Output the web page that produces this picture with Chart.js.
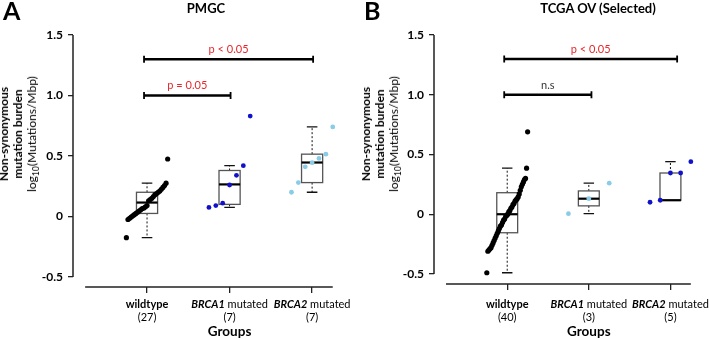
<!DOCTYPE html>
<html>
<head>
<meta charset="utf-8">
<script src="https://cdn.jsdelivr.net/npm/chart.js@4"></script>
<style>
  body { margin: 0; background: #fff; }
  #wrap { position: relative; width: 709px; height: 339px; font-family: Lato, sans-serif; }
  canvas { position: absolute; top: 0; }
  .letter { position: absolute; top: -5px; font-weight: bold; font-size: 25px; }
  .title { position: absolute; top: 0px; font-weight: bold; font-size: 13px; transform: translateX(-50%); white-space: nowrap; }
  .ytitle { position: absolute; top: 134px; transform: translate(-50%, -50%) rotate(-90deg);
            text-align: center; line-height: 14px; font-size: 12px; white-space: nowrap; }
  .ytitle b { font-weight: bold; }
  .ytitle sub { font-size: 8.5px; line-height: 0; }
</style>
</head>
<body>
<div id="wrap">
  <canvas id="chartA" width="354" height="339" style="left:0"></canvas>
  <canvas id="chartB" width="355" height="339" style="left:354px"></canvas>
  <div class="letter" style="left:3px">A</div>
  <div class="letter" style="left:364px">B</div>
  <div class="title" style="left:206px">PMGC</div>
  <div class="title" style="left:598px">TCGA OV (Selected)</div>
  <div class="ytitle" style="left:18px"><b>Non-synonymous</b><br><b>mutation burden</b><br>log<sub>10</sub>(Mutations/Mbp)</div>
  <div class="ytitle" style="left:380px"><b>Non-synonymous</b><br><b>mutation burden</b><br>log<sub>10</sub>(Mutations/Mbp)</div>
</div>
<script>
// groups on the x axis
const groupGene = ['', 'BRCA1', 'BRCA2'];
const groupSuffix = ['wildtype', ' mutated', ' mutated'];
const yTicks = [-0.5, 0, 0.5, 1.0, 1.5];

// PMGC (panel A)
const pmgcCounts = [27, 7, 7];
const pmgcWildtype = [-0.175, -0.025, -0.015, -0.005, 0.005, 0.015, 0.025, 0.035, 0.045, 0.055,
    0.065, 0.07, 0.08, 0.09, 0.13, 0.14, 0.15, 0.165, 0.18, 0.19, 0.20, 0.21, 0.225, 0.24,
    0.255, 0.275, 0.475];
const pmgcBrca1 = [0.075, 0.09, 0.11, 0.26, 0.34, 0.42, 0.83];
const pmgcBrca2 = [0.20, 0.28, 0.41, 0.445, 0.48, 0.515, 0.74];
// [lower whisker, q1, median, q3, upper whisker]
const pmgcBoxes = [
    [-0.175, 0.025, 0.115, 0.20, 0.275],
    [0.075, 0.10, 0.265, 0.38, 0.42],
    [0.20, 0.28, 0.446, 0.515, 0.74]
];
const pmgcBracketTo = [2, 1];
const pmgcBracketY = [1.3, 1.0];
const pmgcBracketText = ['p < 0.05', 'p = 0.05'];

// TCGA OV selected (panel B)
const tcgaCounts = [40, 3, 5];
const tcgaWildtype = [-0.49, -0.31, -0.30, -0.29, -0.28, -0.26, -0.24, -0.22, -0.20,
    -0.18, -0.16, -0.14, -0.12, -0.10, -0.09, -0.07, -0.05, -0.04, -0.02, -0.01,
    0.00, 0.02, 0.03, 0.05, 0.06, 0.08, 0.09, 0.11, 0.12, 0.13, 0.145,
    0.17, 0.20, 0.23, 0.25, 0.27, 0.29, 0.30, 0.385, 0.69];
const tcgaBrca1 = [0.005, 0.13, 0.26];
const tcgaBrca2 = [0.10, 0.117, 0.345, 0.345, 0.44];
const tcgaBoxes = [
    [-0.49, -0.155, 0.0, 0.18, 0.385],
    [0.005, 0.07, 0.13, 0.195, 0.26],
    [0.117, 0.117, 0.117, 0.345, 0.44]
];
const tcgaBracketTo = [2.07, 1.02];
const tcgaBracketY = [1.3, 1.0];
const tcgaBracketText = ['p < 0.05', 'n.s'];

const BLACK = '#000000';
const BLUE = '#1111cc';
const LIGHT_BLUE = '#88cce6';
const RED = '#e8262a';
const SPREAD = 0.25;
const BOX_HALF = 0.128;

Chart.defaults.font.family = 'Lato';

function pointsFor(values, groupIndex) {
    const n = values.length;
    return values.map((v, r) => ({
        x: groupIndex - SPREAD + (n > 1 ? r * 2 * SPREAD / (n - 1) : SPREAD),
        y: v
    }));
}

function panelPlugin(boxes, counts, bracketTo, bracketY, bracketText, bracketColors) {
    return {
        id: 'panelExtras',
        beforeDatasetsDraw(chart) {
            const { ctx, scales: { x, y } } = chart;
            ctx.save();
            // axis lines, R style (detached)
            ctx.strokeStyle = '#222';
            ctx.lineWidth = 1.5;
            ctx.beginPath();
            ctx.moveTo(x.left, y.getPixelForValue(-0.5));
            ctx.lineTo(x.left, y.getPixelForValue(1.5));
            ctx.moveTo(x.getPixelForValue(-0.75), y.bottom);
            ctx.lineTo(x.getPixelForValue(2.25), y.bottom);
            ctx.stroke();

            boxes.forEach((s, i) => {
                const [lo, q1, med, q3, hi] = s.map(v => y.getPixelForValue(v));
                const cx = x.getPixelForValue(i);
                const half = x.getPixelForValue(i + BOX_HALF) - cx;
                const cap = half / 2;
                ctx.strokeStyle = '#111';
                ctx.lineWidth = 1;
                ctx.setLineDash([2, 2]);
                ctx.beginPath();
                ctx.moveTo(cx, q3); ctx.lineTo(cx, hi);
                if (lo > q1 + 0.5) { ctx.moveTo(cx, q1); ctx.lineTo(cx, lo); }
                ctx.stroke();
                ctx.setLineDash([]);
                ctx.lineWidth = 1.3;
                ctx.beginPath();
                ctx.moveTo(cx - cap, hi); ctx.lineTo(cx + cap, hi);
                if (lo > q1 + 0.5) { ctx.moveTo(cx - cap, lo); ctx.lineTo(cx + cap, lo); }
                ctx.stroke();
                ctx.strokeStyle = '#555';
                ctx.lineWidth = 1.3;
                ctx.strokeRect(cx - half, q3, 2 * half, q1 - q3);
                ctx.strokeStyle = '#000';
                ctx.lineWidth = 2.2;
                ctx.beginPath();
                ctx.moveTo(cx - half, med); ctx.lineTo(cx + half, med);
                ctx.stroke();
            });

            // significance brackets
            bracketTo.forEach((to, k) => {
                const x0 = x.getPixelForValue(0) - 3;
                const x1 = x.getPixelForValue(to) + 1;
                const yy = y.getPixelForValue(bracketY[k]);
                ctx.strokeStyle = '#000';
                ctx.lineWidth = 2.5;
                ctx.beginPath();
                ctx.moveTo(x0, yy); ctx.lineTo(x1, yy);
                ctx.stroke();
                ctx.lineWidth = 1.8;
                ctx.beginPath();
                ctx.moveTo(x0, yy - 3.5); ctx.lineTo(x0, yy + 3.5);
                ctx.moveTo(x1, yy - 3.5); ctx.lineTo(x1, yy + 3.5);
                ctx.stroke();
                ctx.fillStyle = bracketColors[k];
                ctx.font = '11px Lato';
                ctx.textAlign = 'center';
                ctx.textBaseline = 'alphabetic';
                ctx.fillText(bracketText[k], (x0 + x1) / 2, yy - 6);
            });
            ctx.restore();
        },
        afterDraw(chart) {
            const { ctx, scales: { x } } = chart;
            ctx.save();
            ctx.fillStyle = '#000';
            ctx.textBaseline = 'middle';
            groupGene.forEach((gene, i) => {
                const cx = x.getPixelForValue(i);
                const geneFont = 'italic bold 11px Lato';
                const restFont = gene ? '11px Lato' : 'bold 11px Lato';
                ctx.font = geneFont;
                const wGene = gene ? ctx.measureText(gene).width : 0;
                ctx.font = restFont;
                const wRest = ctx.measureText(groupSuffix[i]).width;
                let start = cx - (wGene + wRest) / 2;
                ctx.textAlign = 'left';
                if (gene) {
                    ctx.font = geneFont;
                    ctx.fillText(gene, start, 304);
                    start += wGene;
                }
                ctx.font = restFont;
                ctx.fillText(groupSuffix[i], start, 304);
                ctx.textAlign = 'center';
                ctx.font = '11px Lato';
                ctx.fillText('(' + counts[i] + ')', cx, 317);
            });
            ctx.font = 'bold 13.5px Lato';
            ctx.textAlign = 'center';
            ctx.fillText('Groups', x.getPixelForValue(1), 332);
            ctx.restore();
        }
    };
}

function makePanel(canvasId, groupsValues, colors, boxes, counts, brackets, frame) {
    const datasets = groupsValues.map((values, i) => ({
        data: pointsFor(values, i),
        backgroundColor: colors[i],
        borderColor: colors[i],
        pointRadius: i === 0 ? 2.6 : 2.4,
        pointBorderWidth: 0
    }));
    return new Chart(document.getElementById(canvasId), {
        type: 'scatter',
        data: { datasets: datasets },
        options: {
            responsive: false,
            animation: false,
            events: [],
            layout: { padding: { top: 35, left: 0, right: frame.padRight, bottom: 0 } },
            plugins: { legend: { display: false }, tooltip: { enabled: false }, title: { display: false } },
            scales: {
                x: {
                    type: 'linear',
                    min: -0.897,
                    max: 2.35,
                    afterBuildTicks: s => { s.ticks = [0, 1, 2].map(v => ({ value: v })); },
                    afterFit: s => { s.height = frame.xAxisHeight; },
                    ticks: { display: false },
                    border: { display: false },
                    grid: { drawOnChartArea: false, drawTicks: true, tickLength: 6, color: '#222', lineWidth: 1.3 }
                },
                y: {
                    type: 'linear',
                    min: frame.yMin,
                    max: 1.5,
                    afterBuildTicks: s => { s.ticks = yTicks.map(v => ({ value: v })); },
                    afterFit: s => { s.width = frame.yAxisWidth; },
                    ticks: {
                        padding: 5,
                        color: '#000',
                        font: { size: 12, weight: 'bold' },
                        callback: v => (v === 0 ? '0' : v.toFixed(1))
                    },
                    border: { display: false },
                    grid: { drawOnChartArea: false, drawTicks: true, tickLength: 5, color: '#222', lineWidth: 1.3 }
                }
            }
        },
        plugins: [panelPlugin(boxes, counts, brackets.to, brackets.y, brackets.text, brackets.colors)]
    });
}

makePanel('chartA', [pmgcWildtype, pmgcBrca1, pmgcBrca2], [BLACK, BLUE, LIGHT_BLUE],
    pmgcBoxes, pmgcCounts,
    { to: pmgcBracketTo, y: pmgcBracketY, text: pmgcBracketText, colors: [RED, RED] },
    { padRight: 13, xAxisHeight: 52, yAxisWidth: 73, yMin: -0.583 });

makePanel('chartB', [tcgaWildtype, tcgaBrca1, tcgaBrca2], [BLACK, LIGHT_BLUE, BLUE],
    tcgaBoxes, tcgaCounts,
    { to: tcgaBracketTo, y: tcgaBracketY, text: tcgaBracketText, colors: [RED, '#333'] },
    { padRight: 10, xAxisHeight: 55, yAxisWidth: 80, yMin: -0.584 });
</script>
</body>
</html>
